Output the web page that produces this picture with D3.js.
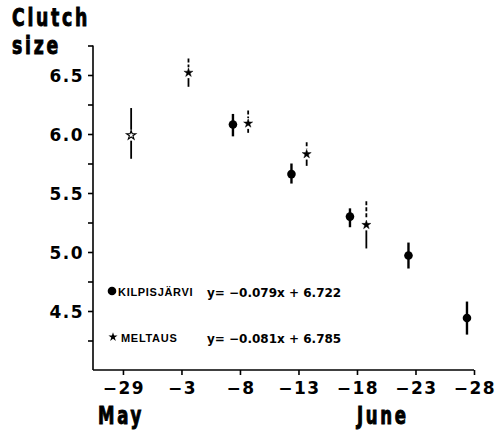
<!DOCTYPE html>
<html>
<head>
<meta charset="utf-8">
<script src="https://cdn.jsdelivr.net/npm/d3@7"></script>
<style>
  body { margin: 0; background: #fff; }
  svg text { fill: #000; }
  .tick-label { font-family: "DejaVu Sans", sans-serif; font-weight: bold; font-size: 17px; letter-spacing: 1.5px; }
  .heavy { font-family: "DejaVu Sans Condensed", "DejaVu Sans", sans-serif; font-weight: bold; font-stretch: condensed; stroke: #000; stroke-width: 0.9px; }
</style>
</head>
<body>
<div id="chart"></div>
<script>
// days counted from 29 May (29 May = 0, 3 June = 5, ...)
var kilpDay = [9.4, 14.4, 19.4, 24.4, 29.4];
var kilpMean = [6.08, 5.66, 5.30, 4.97, 4.44];
var kilpLow = [5.98, 5.58, 5.21, 4.86, 4.30];
var kilpHigh = [6.17, 5.75, 5.37, 5.08, 4.58];

var meltDay = [0.7, 5.6, 10.7, 15.7, 20.8];
var meltMean = [5.99, 6.52, 6.09, 5.83, 5.23];
var meltLow = [5.79, 6.40, 6.01, 5.73, 5.03];
var meltHigh = [6.22, 6.64, 6.20, 5.93, 5.43];

var xTicks = [0, 5, 10, 15, 20, 25, 30];
var xLabels = ["\u221229", "\u22123", "\u22128", "\u221213", "\u221218", "\u221223", "\u221228"];
var yTicks = [4.25, 4.5, 4.75, 5.0, 5.25, 5.5, 5.75, 6.0, 6.25, 6.5, 6.75];
var yLabels = ["4.5", "5.0", "5.5", "6.0", "6.5"];

var legendNames = ["KILPISJ\u00c4RVI", "MELTAUS"];
var legendEq = ["y= \u22120.079x + 6.722", "y= \u22120.081x + 6.785"];

var w = 502, h = 436;

var svg = d3.select("#chart").append("svg")
    .attr("width", w)
    .attr("height", h);

var x = d3.scaleLinear([-2.56, 30], [93, 474]);
var y = d3.scaleLinear([4.0, 6.75], [370, 45.5]);

// axes
var yAxis = d3.axisLeft(y).tickValues(yTicks).tickSize(5).tickFormat("");
var gy = svg.append("g")
    .attr("transform", "translate(" + x.range()[0] + ",0)")
    .call(yAxis);
gy.select(".domain").attr("d", "M0," + y(6.75) + "V" + y(4.0));

var xAxis = d3.axisBottom(x).tickValues(xTicks).tickSize(5).tickFormat("");
var gx = svg.append("g")
    .attr("transform", "translate(0," + y(4.0) + ")")
    .call(xAxis);
gx.select(".domain").attr("d", "M" + x.range()[0] + ",0H" + x.range()[1]);

svg.selectAll("g .domain, g .tick line")
    .attr("stroke", "#000")
    .attr("stroke-width", 1.6);

svg.selectAll(".ylab")
    .data(yLabels)
    .join("text")
    .attr("class", "tick-label")
    .attr("x", 84)
    .attr("y", d => y(+d) + 6.5)
    .attr("text-anchor", "end")
    .text(d => d);

svg.selectAll(".xlab")
    .data(xTicks)
    .join("text")
    .attr("class", "tick-label")
    .attr("x", d => x(d) + 1)
    .attr("y", 394)
    .attr("text-anchor", "middle")
    .text((d, i) => xLabels[i]);

// title and months, heavy narrow lettering
function heavyText(tx, ty, size, str) {
    svg.append("text").attr("class", "heavy")
        .attr("transform", "translate(" + tx + "," + ty + ") scale(0.8,1.04)")
        .style("font-size", size + "px")
        .style("letter-spacing", "3.4px")
        .text(str);
}
heavyText(12, 26, 24, "Clutch");
heavyText(12, 54, 24, "size");
heavyText(98, 424, 23, "May");
heavyText(x(20), 424, 23, "June");

// Kilpisjarvi: dots with error bars
var kilp = kilpDay.map((d, i) => ({ day: d, mean: kilpMean[i], low: kilpLow[i], high: kilpHigh[i] }));
svg.selectAll(".kbar")
    .data(kilp)
    .join("line")
    .attr("x1", d => x(d.day)).attr("x2", d => x(d.day))
    .attr("y1", d => y(d.high)).attr("y2", d => y(d.low))
    .attr("stroke", "#000")
    .attr("stroke-width", 2.4);
svg.selectAll(".kdot")
    .data(kilp)
    .join("circle")
    .attr("cx", d => x(d.day))
    .attr("cy", d => y(d.mean))
    .attr("r", 4.3)
    .attr("fill", "#000");

// Meltaus: stars with broken error bars
var melt = meltDay.map((d, i) => ({ day: d, mean: meltMean[i], low: meltLow[i], high: meltHigh[i] }));
var gap = 5.5;
svg.selectAll(".mup")
    .data(melt)
    .join("line")
    .attr("x1", d => x(d.day)).attr("x2", d => x(d.day))
    .attr("y1", d => y(d.high)).attr("y2", d => y(d.mean) - gap)
    .attr("stroke", "#000")
    .attr("stroke-width", 1.8)
    .attr("stroke-dasharray", (d, i) => i === 0 ? null : "4,2");
svg.selectAll(".mdown")
    .data(melt)
    .join("line")
    .attr("x1", d => x(d.day)).attr("x2", d => x(d.day))
    .attr("y1", d => y(d.mean) + gap).attr("y2", d => y(d.low))
    .attr("stroke", "#000")
    .attr("stroke-width", 1.8);

var star = d3.symbol().type(d3.symbolStar).size(26);
svg.selectAll(".mstar")
    .data(melt)
    .join("path")
    .attr("d", star)
    .attr("transform", d => "translate(" + x(d.day) + "," + y(d.mean) + ")")
    .attr("fill", (d, i) => i === 0 ? "#fff" : "#000")
    .attr("stroke", "#000")
    .attr("stroke-width", (d, i) => i === 0 ? 1.1 : 0.4);

// legend
var legY = [291, 337];
svg.append("circle").attr("cx", 112).attr("cy", legY[0]).attr("r", 4.3).attr("fill", "#000");
svg.append("path").attr("d", star)
    .attr("transform", "translate(113," + legY[1] + ")")
    .attr("fill", "#000");

svg.selectAll(".legname")
    .data(legendNames)
    .join("text")
    .attr("x", (d, i) => i === 0 ? 118 : 121)
    .attr("y", (d, i) => legY[i] + 4.5)
    .style("font-family", "'Liberation Sans', Arial, sans-serif")
    .style("font-weight", "bold")
    .style("font-size", "11px")
    .style("letter-spacing", "0.7px")
    .text(d => d);

svg.selectAll(".legeq")
    .data(legendEq)
    .join("text")
    .attr("x", 207)
    .attr("y", (d, i) => legY[i] + 5.5)
    .style("font-family", "'DejaVu Sans', sans-serif")
    .style("font-weight", "bold")
    .style("font-size", "12px")
    .text(d => d);
</script>
</body>
</html>
